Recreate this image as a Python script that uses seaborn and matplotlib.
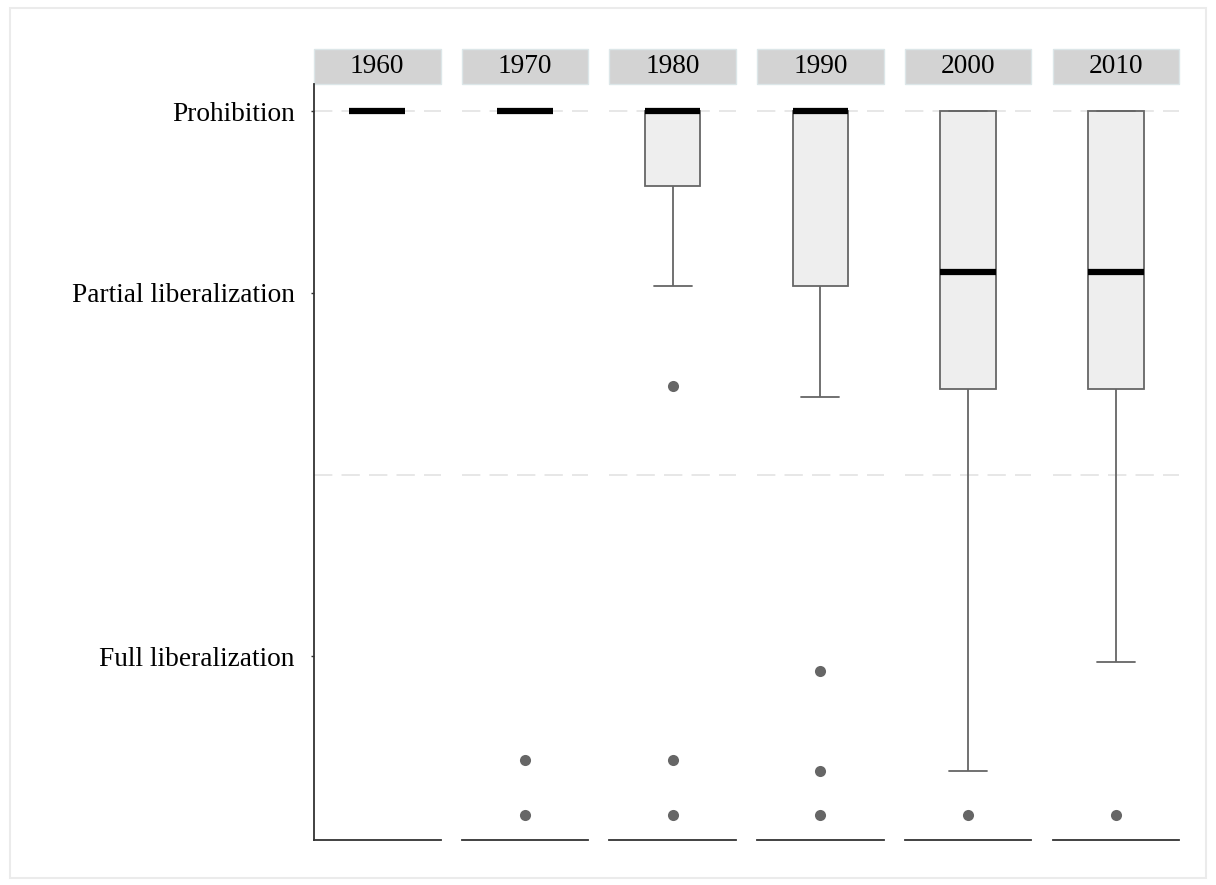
import numpy as np
import pandas as pd
import seaborn as sns
import matplotlib
matplotlib.use("Agg")
import matplotlib.pyplot as plt
from matplotlib.patches import Rectangle

# ---- data (0 = Prohibition, 1 = Partial, 3 = Full liberalization) ----
decades = ["1960", "1970", "1980", "1990", "2000", "2010"]
values_1960 = [0, 0, 0, 0, 0, 0, 0, 0, 0, 0, 0, 0]
values_1970 = [0] * 20 + [3.57, 3.87]
values_1980 = [0] * 9 + [0.10, 0.20, 0.30, 0.41, 0.96, 1.51, 3.57, 3.87]
values_1990 = [0] * 11 + [0.30, 0.50, 0.70, 0.85, 0.96, 1.20, 1.57, 3.08, 3.63, 3.87]
values_2000 = [0] * 5 + [0.30, 0.60, 0.80, 0.885, 1.00, 1.20, 1.40, 1.53, 2.00, 2.80, 3.63, 3.87]
values_2010 = [0] * 5 + [0.30, 0.60, 0.80, 0.885, 1.00, 1.20, 1.40, 1.53, 1.90, 2.40, 3.03, 3.87]
ytick_values = [0, 1, 3]
ytick_labels = ["Prohibition", "Partial liberalization", "Full liberalization"]
grid_values = [0, 2]

all_values = [values_1960, values_1970, values_1980, values_1990, values_2000, values_2010]
df = pd.concat(
    [pd.DataFrame({"decade": d, "value": v}) for d, v in zip(decades, all_values)],
    ignore_index=True,
)

sns.set_theme(style="white")
plt.rcParams["font.family"] = ["Liberation Serif", "DejaVu Serif"]

W, H = 1216, 885
fig = plt.figure(figsize=(W / 100, H / 100), dpi=100)
fig.patch.set_facecolor("white")

# outer light frame
fig.add_artist(Rectangle((10 / W, 1 - 878 / H), (1206 - 10) / W, (878 - 8) / H,
                         transform=fig.transFigure, fill=False,
                         edgecolor="#EBEBEB", linewidth=1.5))

panel_left0 = 314
panel_w = 126.5
panel_step = 147.7
panel_top = 84
panel_bottom = 840
strip_h = 35

for i, d in enumerate(decades):
    left = (panel_left0 + i * panel_step) / W
    ax = fig.add_axes([left, 1 - panel_bottom / H, panel_w / W,
                       (panel_bottom - panel_top) / H])
    sub = df[df["decade"] == d]
    for g in grid_values:
        ax.axhline(g, color="#E0E0E0", linewidth=1.1, linestyle=(0, (12, 6)), zorder=0)
    sns.boxplot(
        data=sub, y="value", ax=ax, width=0.44, color="#EEEEEE", saturation=1,
        linecolor="#666666", linewidth=1.3, whis=1.5,
        medianprops={"color": "black", "linewidth": 4.5, "solid_capstyle": "butt"},
        flierprops={"marker": "o", "markerfacecolor": "#666666",
                    "markeredgecolor": "none", "markersize": 8},
    )
    # narrower caps like the reference
    for line in ax.lines:
        xd = np.asarray(line.get_xdata(), dtype=float)
        yd = np.asarray(line.get_ydata(), dtype=float)
        if len(xd) == 2 and np.isclose(yd[0], yd[1]) and np.isclose(abs(xd[1] - xd[0]), 0.22):
            if line.get_color() != "black" and line.get_linewidth() < 3:
                c = xd.mean()
                line.set_xdata([c - 0.15, c + 0.15])
    ax.set_xlim(-0.5, 0.5)
    ax.set_ylim(4.01, -0.15)
    ax.set_xlabel("")
    ax.set_ylabel("")
    ax.set_xticks([])
    ax.set_facecolor("white")
    for s in ["top", "right"]:
        ax.spines[s].set_visible(False)
    ax.spines["bottom"].set_color("#333333")
    ax.spines["bottom"].set_linewidth(1.3)
    if i == 0:
        ax.spines["left"].set_color("#333333")
        ax.spines["left"].set_linewidth(1.3)
        ax.set_yticks(ytick_values)
        ax.set_yticklabels(ytick_labels, fontsize=19.7, color="black")
        ax.tick_params(axis="y", length=2, width=1, color="#333333", pad=12, left=True)
    else:
        ax.spines["left"].set_visible(False)
        ax.set_yticks([])
    # facet strip
    sh = strip_h / (panel_bottom - panel_top)
    ax.add_patch(Rectangle((0, 1.0), 1, sh, transform=ax.transAxes, clip_on=False,
                           facecolor="#D3D3D3", edgecolor="#DCE6E8", linewidth=1))
    ax.text(0.5, 1.0 + sh / 2, d, transform=ax.transAxes, ha="center", va="center",
            fontsize=19.7, color="black")

fig.savefig("out.png", dpi=100)
